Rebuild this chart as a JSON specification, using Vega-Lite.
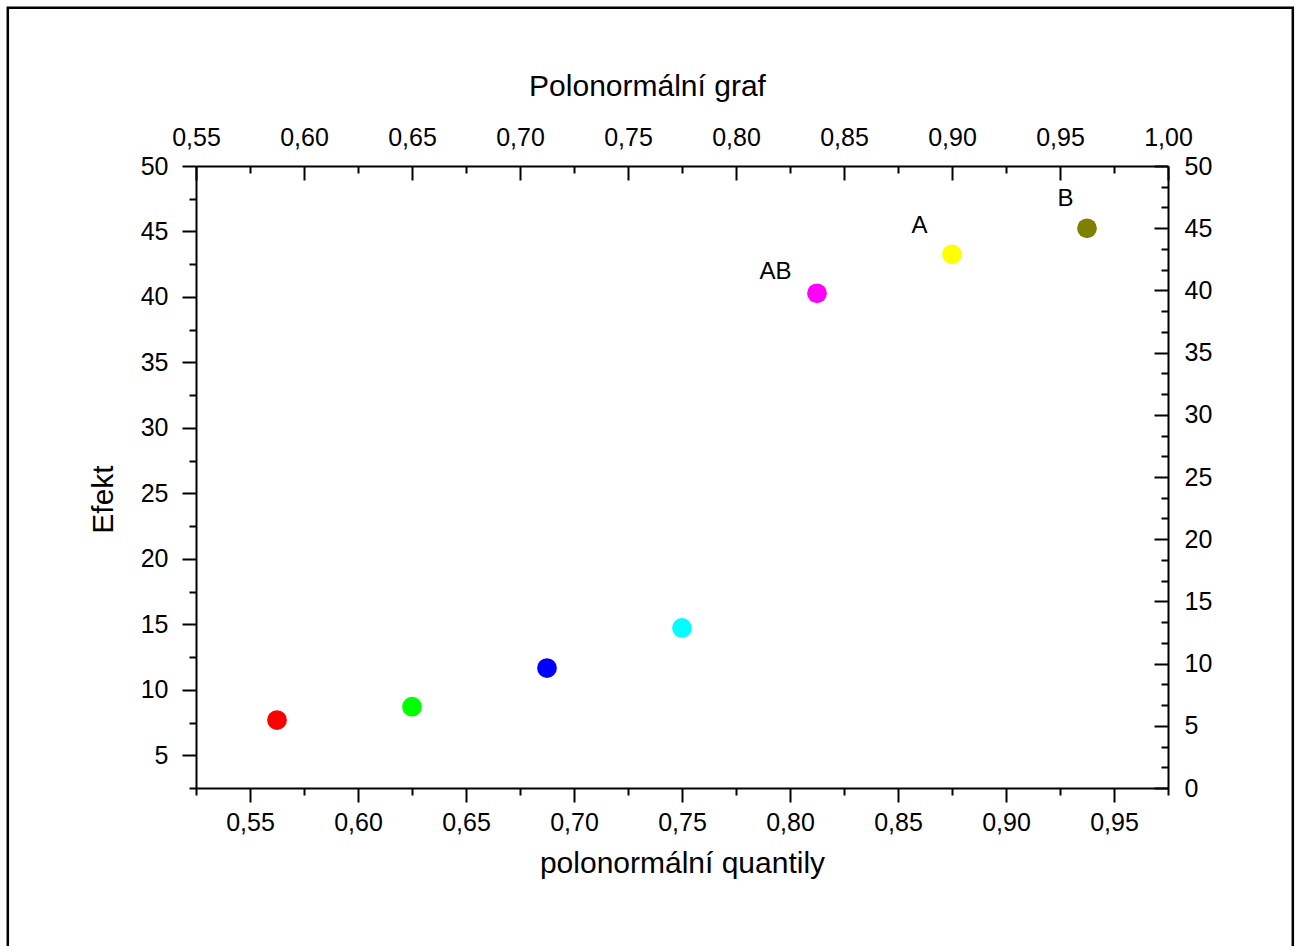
{
  "$schema": "https://vega.github.io/schema/vega-lite/v6.json",
  "width": 972,
  "height": 622,
  "autosize": {"type": "none"},
  "padding": {"left": 196, "top": 166, "right": 130, "bottom": 158},
  "background": "white",
  "config": {
    "view": {"stroke": null},
    "font": "Liberation Sans",
    "axis": {
      "labelFont": "Liberation Sans",
      "labelFontSize": 25,
      "labelColor": "black",
      "labelFlush": false,
      "labelOverlap": false,
      "labelBound": false,
      "tickColor": "black",
      "tickWidth": 2,
      "domainColor": "black",
      "domainWidth": 2,
      "titleFont": "Liberation Sans",
      "titleFontSize": 30,
      "titleFontWeight": "normal",
      "titleColor": "black",
      "grid": false
    }
  },
  "datasets": {
    "pts": [
      {"id": "1", "q": 0.5625, "e": 7.69},
      {"id": "2", "q": 0.625, "e": 8.71},
      {"id": "3", "q": 0.6875, "e": 11.66},
      {"id": "4", "q": 0.75, "e": 14.72},
      {"id": "AB", "q": 0.8125, "e": 40.28},
      {"id": "A", "q": 0.875, "e": 43.26},
      {"id": "B", "q": 0.9375, "e": 45.24}
    ],
    "lbl": [
      {"text": "AB", "q": 0.7933, "e": 41.37},
      {"text": "A", "q": 0.86, "e": 44.88},
      {"text": "B", "q": 0.9275, "e": 46.95}
    ],
    "frame": [
      {"q": 0.43787, "q2": 1.03278, "e": 62.08, "e2": -11}
    ]
  },
  "layer": [
    {
      "encoding": {
        "x": {
          "field": "q", "type": "quantitative",
          "scale": {"domain": [0.525, 0.975], "nice": false, "zero": false},
          "axis": {
            "orient": "bottom",
            "values": [0.55, 0.6, 0.65, 0.7, 0.75, 0.8, 0.85, 0.9, 0.95],
            "labelExpr": "replace(format(datum.value, '.2f'), '.', ',')",
            "tickSize": 14,
            "labelPadding": 8,
            "title": "polonormální quantily",
            "titlePadding": 13
          }
        },
        "y": {
          "field": "e", "type": "quantitative",
          "scale": {"domain": [2.5, 50], "nice": false, "zero": false},
          "axis": {
            "orient": "left",
            "values": [5, 10, 15, 20, 25, 30, 35, 40, 45, 50],
            "tickSize": 14,
            "labelPadding": 14,
            "title": "Efekt",
            "titlePadding": 22,
            "titleY": 333
          }
        }
      },
      "layer": [
        {
          "data": {"name": "frame"},
          "mark": {"type": "rect", "filled": false, "stroke": "black", "strokeWidth": 2.5, "clip": false},
          "encoding": {
            "x2": {"field": "q2"},
            "y2": {"field": "e2"}
          }
        },
        {
          "data": {"name": "pts"},
          "mark": {"type": "circle", "size": 390, "opacity": 1},
          "encoding": {
            "color": {
              "field": "id", "type": "nominal", "legend": null,
              "scale": {
                "domain": ["1", "2", "3", "4", "AB", "A", "B"],
                "range": ["#ff0000", "#00ff00", "#0000ff", "#00ffff", "#ff00ff", "#ffff00", "#808000"]
              }
            }
          }
        },
        {
          "data": {"name": "lbl"},
          "mark": {"type": "text", "font": "Liberation Sans", "fontSize": 24, "align": "center", "baseline": "alphabetic", "color": "black"},
          "encoding": {
            "text": {"field": "text"}
          }
        }
      ]
    },
    {
      "data": {"name": "pts"},
      "mark": {"type": "point", "opacity": 0},
      "encoding": {
        "x": {
          "field": "q", "type": "quantitative",
          "scale": {"domain": [0.525, 0.975], "nice": false, "zero": false},
          "axis": {
            "orient": "bottom",
            "values": [0.525, 0.575, 0.625, 0.675, 0.725, 0.775, 0.825, 0.875, 0.925, 0.975],
            "tickSize": 7, "labels": false, "domain": false, "title": null
          }
        },
        "y": {
          "field": "e", "type": "quantitative",
          "scale": {"domain": [2.5, 50], "nice": false, "zero": false},
          "axis": {
            "orient": "left",
            "values": [2.5, 7.5, 12.5, 17.5, 22.5, 27.5, 32.5, 37.5, 42.5, 47.5],
            "tickSize": 7, "labels": false, "domain": false, "title": null
          }
        }
      }
    },
    {
      "data": {"name": "pts"},
      "mark": {"type": "point", "opacity": 0},
      "encoding": {
        "x": {
          "field": "q", "type": "quantitative",
          "scale": {"domain": [0.55, 1.0], "nice": false, "zero": false},
          "axis": {
            "orient": "top",
            "values": [0.55, 0.6, 0.65, 0.7, 0.75, 0.8, 0.85, 0.9, 0.95, 1.0],
            "labelExpr": "replace(format(datum.value, '.2f'), '.', ',')",
            "tickSize": -14,
            "labelPadding": 30,
            "title": "Polonormální graf",
            "titleX": 451,
            "titlePadding": 24
          }
        },
        "y": {
          "field": "e", "type": "quantitative",
          "scale": {"domain": [0, 50], "nice": false, "zero": false},
          "axis": {
            "orient": "right",
            "values": [0, 5, 10, 15, 20, 25, 30, 35, 40, 45, 50],
            "tickSize": -14,
            "labelPadding": 30,
            "title": null
          }
        }
      }
    },
    {
      "data": {"name": "pts"},
      "mark": {"type": "point", "opacity": 0},
      "encoding": {
        "x": {
          "field": "q", "type": "quantitative",
          "scale": {"domain": [0.55, 1.0], "nice": false, "zero": false},
          "axis": {
            "orient": "top",
            "values": [0.575, 0.625, 0.675, 0.725, 0.775, 0.825, 0.875, 0.925, 0.975],
            "tickSize": -7, "labels": false, "domain": false, "title": null
          }
        },
        "y": {
          "field": "e", "type": "quantitative",
          "scale": {"domain": [0, 50], "nice": false, "zero": false},
          "axis": {
            "orient": "right",
            "values": [1.6667, 3.3333, 6.6667, 8.3333, 11.6667, 13.3333, 16.6667, 18.3333, 21.6667, 23.3333, 26.6667, 28.3333, 31.6667, 33.3333, 36.6667, 38.3333, 41.6667, 43.3333, 46.6667, 48.3333],
            "tickSize": -7, "labels": false, "domain": false, "title": null
          }
        }
      }
    }
  ],
  "resolve": {"scale": {"x": "independent", "y": "independent"}}
}
